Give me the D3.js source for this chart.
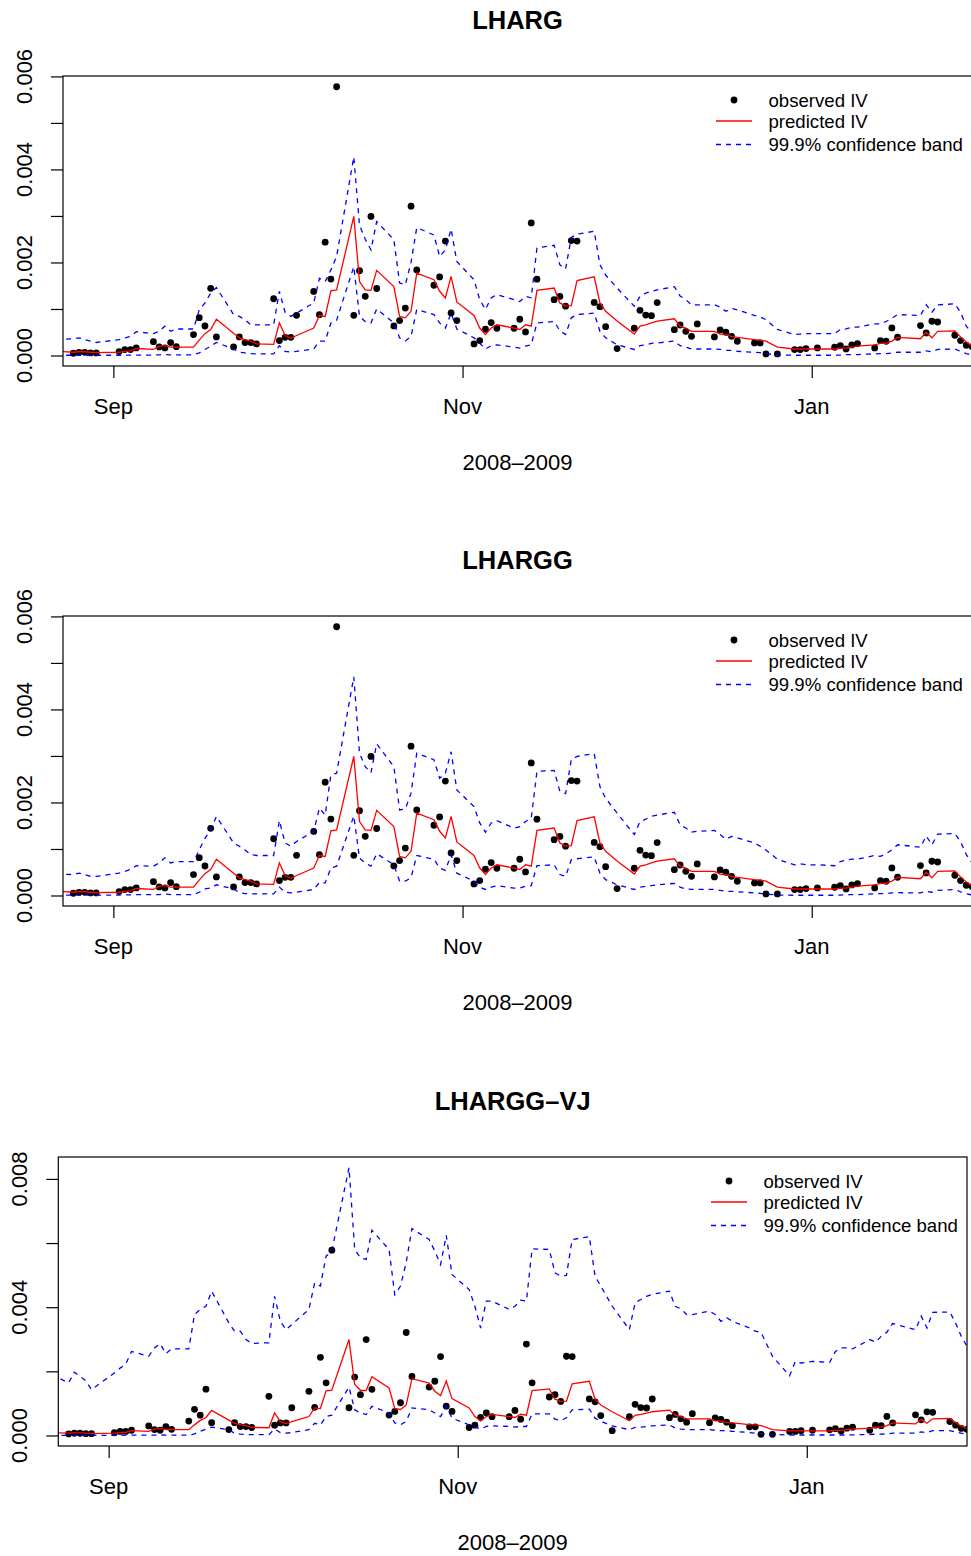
<!DOCTYPE html>
<html><head><meta charset="utf-8">
<script src="https://cdn.jsdelivr.net/npm/d3@7"></script>
<style>body{margin:0;background:#fff}svg{display:block}</style>
</head><body>
<svg id="chart" width="971" height="1556"></svg>
<script>
// Trading days (x categories)
const dates = [
"2008-08-22",
"2008-08-25","2008-08-26","2008-08-27","2008-08-28","2008-08-29",
"2008-09-02","2008-09-03","2008-09-04","2008-09-05",
"2008-09-08","2008-09-09","2008-09-10","2008-09-11","2008-09-12",
"2008-09-15","2008-09-16","2008-09-17","2008-09-18","2008-09-19",
"2008-09-22","2008-09-23","2008-09-24","2008-09-25","2008-09-26",
"2008-09-29","2008-09-30","2008-10-01","2008-10-02","2008-10-03",
"2008-10-06","2008-10-07","2008-10-08","2008-10-09","2008-10-10",
"2008-10-13","2008-10-14","2008-10-15","2008-10-16","2008-10-17",
"2008-10-20","2008-10-21","2008-10-22","2008-10-23","2008-10-24",
"2008-10-27","2008-10-28","2008-10-29","2008-10-30","2008-10-31",
"2008-11-03","2008-11-04","2008-11-05","2008-11-06","2008-11-07",
"2008-11-10","2008-11-11","2008-11-12","2008-11-13","2008-11-14",
"2008-11-17","2008-11-18","2008-11-19","2008-11-20","2008-11-21",
"2008-11-24","2008-11-25","2008-11-26","2008-11-28",
"2008-12-01","2008-12-02","2008-12-03","2008-12-04","2008-12-05",
"2008-12-08","2008-12-09","2008-12-10","2008-12-11","2008-12-12",
"2008-12-15","2008-12-16","2008-12-17","2008-12-18","2008-12-19",
"2008-12-22","2008-12-23","2008-12-24","2008-12-26",
"2008-12-29","2008-12-30","2008-12-31","2009-01-02",
"2009-01-05","2009-01-06","2009-01-07","2009-01-08","2009-01-09",
"2009-01-12","2009-01-13","2009-01-14","2009-01-15","2009-01-16",
"2009-01-20","2009-01-21","2009-01-22","2009-01-23",
"2009-01-26","2009-01-27","2009-01-28","2009-01-29"];

// All series values are in units of 0.001
const observed = [
0.05,
0.048,0.069,0.069,0.055,0.055,
0.084,0.127,0.127,0.163,
0.298,0.184,0.163,0.277,0.19,
0.449,0.814,0.634,1.443,0.399,
0.184,0.399,0.277,0.277,0.248,
1.22,0.32,0.39,0.39,0.864,
1.377,0.878,2.436,1.642,5.778,
0.864,1.822,1.271,2.99,1.44,
0.636,0.75,1.02,3.21,1.84,
1.51,1.69,2.46,0.914,0.75,
0.248,0.32,0.564,0.707,0.586,
0.586,0.779,0.507,2.85,1.64,
1.2,1.27,1.06,2.47,2.46,
1.14,1.05,0.62,0.149,
0.586,0.97,0.87,0.857,1.137,
0.556,0.656,0.52,0.413,0.678,
0.399,0.55,0.5,0.413,0.306,
0.27,0.27,0.034,0.034,
0.127,0.127,0.149,0.163,
0.177,0.213,0.141,0.227,0.256,
0.163,0.32,0.306,0.592,0.392,
0.643,0.486,0.736,0.72,
0.435,0.32,0.22,0.19];

const predicted = [
0.09,
0.07,0.08,0.08,0.07,0.06,
0.07,0.09,0.10,0.15,
0.13,0.20,0.21,0.18,0.18,
0.18,0.33,0.47,0.56,0.78,
0.48,0.38,0.34,0.31,0.25,
0.24,0.70,0.43,0.37,0.43,
0.59,0.86,0.84,1.39,1.41,
2.99,1.59,1.41,1.40,1.83,
1.48,0.84,0.81,0.95,1.77,
1.63,1.38,1.24,1.70,1.15,
0.86,0.59,0.45,0.59,0.66,
0.59,0.56,0.66,0.63,1.40,
1.45,1.13,1.06,1.07,1.61,
1.69,1.13,0.95,0.74,
0.46,0.63,0.66,0.70,0.74,
0.79,0.63,0.59,0.52,0.52,
0.52,0.46,0.45,0.41,0.39,
0.34,0.33,0.31,0.18,
0.14,0.14,0.14,0.14,
0.14,0.16,0.16,0.18,0.20,
0.23,0.26,0.26,0.31,0.39,
0.36,0.50,0.38,0.52,
0.53,0.40,0.29,0.20];

const upperLHARG = [
0.34,
0.36,0.38,0.34,0.31,0.28,
0.34,0.38,0.41,0.51,
0.47,0.52,0.63,0.52,0.57,
0.57,0.98,1.13,1.34,1.46,
0.88,0.84,0.77,0.66,0.66,
0.66,1.38,0.93,0.84,0.91,
1.13,1.66,1.59,1.84,2.13,
4.27,2.80,2.50,2.27,2.88,
2.49,1.56,1.52,2.0,2.75,
2.59,2.13,2.27,2.72,2.02,
1.63,1.20,0.99,1.24,1.31,
1.20,1.16,1.27,1.24,2.31,
2.37,1.95,1.86,2.54,2.61,
2.67,1.95,1.73,1.45,
1.06,1.27,1.34,1.38,1.41,
1.48,1.28,1.20,1.09,1.09,
1.09,1.04,0.95,1.01,0.98,
0.86,0.83,0.77,0.56,
0.45,0.46,0.47,0.47,
0.47,0.56,0.57,0.61,0.61,
0.68,0.68,0.73,0.80,0.88,
0.86,1.09,0.93,1.09,
1.11,0.93,0.63,0.49];

const lowerLHARG = [
0.005,
0.005,0.005,0.005,0.005,0.005,
0.005,0.007,0.007,0.01,
0.01,0.015,0.02,0.015,0.015,
0.015,0.055,0.13,0.20,0.28,
0.14,0.07,0.055,0.04,0.035,
0.035,0.21,0.09,0.075,0.09,
0.14,0.31,0.31,0.70,0.76,
1.91,0.84,0.73,0.70,1.0,
0.70,0.38,0.31,0.41,0.99,
0.88,0.70,0.59,0.91,0.57,
0.38,0.26,0.14,0.21,0.23,
0.18,0.16,0.20,0.23,0.70,
0.73,0.53,0.45,0.81,0.88,
0.91,0.52,0.38,0.23,
0.13,0.21,0.23,0.26,0.27,
0.31,0.21,0.18,0.14,0.14,
0.14,0.13,0.11,0.11,0.09,
0.07,0.06,0.04,0.01,
0.005,0.005,0.005,0.005,
0.005,0.01,0.02,0.02,0.02,
0.035,0.04,0.04,0.055,0.07,
0.07,0.10,0.08,0.13,
0.14,0.09,0.04,0.01];

const upperLHARGG = [
0.46,
0.45,0.48,0.45,0.41,0.41,
0.48,0.52,0.56,0.64,
0.63,0.70,0.81,0.70,0.73,
0.73,0.98,1.23,1.41,1.70,
1.13,1.06,0.98,0.88,0.86,
0.86,1.61,1.13,1.06,1.16,
1.38,1.88,1.73,2.59,2.63,
4.70,3.06,2.77,2.64,3.26,
2.77,1.84,1.86,2.2,3.06,
2.92,2.52,2.63,3.09,2.27,
1.91,1.56,1.36,1.56,1.61,
1.45,1.48,1.59,1.66,2.67,
2.69,2.24,2.19,2.92,2.99,
3.05,2.34,2.09,1.77,
1.31,1.59,1.64,1.70,1.73,
1.79,1.52,1.45,1.36,1.38,
1.40,1.31,1.21,1.27,1.24,
1.13,1.06,0.98,0.78,
0.66,0.68,0.66,0.66,
0.64,0.73,0.76,0.78,0.78,
0.86,0.84,0.90,0.98,1.09,
1.04,1.28,1.09,1.32,
1.33,1.16,0.88,0.70];

const lowerLHARGG = [
0.01,
0.01,0.01,0.01,0.01,0.01,
0.01,0.015,0.015,0.02,
0.02,0.02,0.03,0.02,0.02,
0.02,0.07,0.14,0.16,0.23,
0.14,0.06,0.04,0.035,0.035,
0.035,0.18,0.07,0.055,0.07,
0.13,0.28,0.27,0.59,0.63,
1.71,0.80,0.70,0.63,0.90,
0.66,0.31,0.31,0.38,0.86,
0.78,0.59,0.54,0.88,0.48,
0.31,0.18,0.13,0.18,0.21,
0.16,0.16,0.20,0.21,0.64,
0.66,0.45,0.41,0.77,0.79,
0.83,0.48,0.34,0.23,
0.13,0.18,0.20,0.21,0.23,
0.26,0.18,0.14,0.13,0.13,
0.13,0.11,0.09,0.09,0.08,
0.055,0.045,0.03,0.01,
0.005,0.005,0.005,0.005,
0.005,0.01,0.02,0.02,0.02,
0.035,0.04,0.04,0.055,0.06,
0.055,0.09,0.07,0.11,
0.13,0.08,0.04,0.01];

const upperLHARGGVJ = [
1.90,
1.64,1.97,1.84,1.71,1.43,
1.95,2.10,2.23,2.62,
2.47,2.73,2.86,2.55,2.70,
2.70,3.77,3.93,4.03,4.50,
3.51,3.25,3.25,2.99,2.87,
2.89,4.34,3.56,3.30,3.46,
3.93,4.76,4.66,5.59,5.75,
8.35,5.80,5.54,5.49,6.40,
5.80,4.39,4.66,5.4,6.45,
6.11,5.75,5.33,6.24,5.02,
4.55,4.03,3.35,4.19,4.19,
3.93,4.03,4.22,4.19,5.82,
5.80,5.07,4.97,4.99,6.11,
6.20,4.97,4.66,4.03,
3.30,4.14,4.24,4.34,4.40,
4.50,4.03,3.95,3.77,3.77,
3.88,3.77,3.56,3.67,3.56,
3.35,3.25,3.22,2.47,
1.86,2.31,2.26,2.31,
2.28,2.62,2.73,2.73,2.70,
2.99,2.91,3.09,3.22,3.49,
3.30,3.72,3.35,3.84,
3.85,3.51,3.09,2.78];

const lowerLHARGGVJ = [
0.005,
0.005,0.005,0.005,0.005,0.005,
0.005,0.005,0.008,0.01,
0.01,0.01,0.015,0.01,0.01,
0.01,0.05,0.13,0.20,0.26,
0.18,0.07,0.04,0.03,0.025,
0.025,0.20,0.09,0.07,0.09,
0.18,0.38,0.33,0.59,0.63,
1.51,0.80,0.70,0.65,0.91,
0.70,0.39,0.33,0.44,0.86,
0.80,0.70,0.59,0.91,0.54,
0.33,0.26,0.20,0.28,0.30,
0.28,0.26,0.28,0.28,0.67,
0.67,0.51,0.47,0.55,0.80,
0.82,0.54,0.44,0.30,
0.18,0.25,0.26,0.28,0.30,
0.33,0.23,0.20,0.18,0.18,
0.18,0.16,0.15,0.15,0.13,
0.09,0.07,0.06,0.03,
0.015,0.015,0.015,0.015,
0.015,0.015,0.015,0.015,0.02,
0.03,0.04,0.04,0.05,0.07,
0.07,0.11,0.09,0.15,
0.15,0.11,0.07,0.04];

const titles = ["LHARG", "LHARGG", "LHARGG\u2013VJ"];
const xTickDates = ["2008-09-01", "2008-11-01", "2009-01-01"];
const xTickLabels = ["Sep", "Nov", "Jan"];
const xAxisTitle = "2008\u20132009";
const yTicksA = [0, 1, 2, 3, 4, 5, 6];
const yLabelsA = [0, 2, 4, 6];
const yTicksB = [0, 2, 4, 6, 8];
const yLabelsB = [0, 4, 8];
const legendLabels = ["observed IV", "predicted IV", "99.9% confidence band"];
const UNIT = 0.001;

// ---------- drawing ----------
const FONT = "'Liberation Sans', Arial, Helvetica, sans-serif";
const svg = d3.select("#chart");
svg.append("rect").attr("width", 971).attr("height", 1556).attr("fill", "#fff");
const parse = d3.utcParse("%Y-%m-%d");
const D = dates.map(parse);
const xDomain = [new Date(Date.UTC(2008, 7, 23, 4, 48)), new Date(Date.UTC(2009, 0, 29, 0, 0))];
const DOT_R = 3.4;

const panels = [
  {title: titles[0], upper: upperLHARG, lower: lowerLHARG, box: {l: 63, r: 972, t: 76, b: 366}, yt: yTicksA, yl: yLabelsA},
  {title: titles[1], upper: upperLHARGG, lower: lowerLHARGG, box: {l: 63, r: 972, t: 616, b: 906}, yt: yTicksA, yl: yLabelsA},
  {title: titles[2], upper: upperLHARGGVJ, lower: lowerLHARGGVJ, box: {l: 58.3, r: 967, t: 1157, b: 1446}, yt: yTicksB, yl: yLabelsB}
];

panels.forEach((p, pi) => {
  const b = p.box;
  const g = svg.append("g");
  const x = d3.scaleUtc().domain(xDomain).range([b.l, b.r]);
  const ext = d3.extent([...observed, ...predicted, ...p.upper, ...p.lower]);
  const pad = 0.04 * (ext[1] - ext[0]);
  const y = d3.scaleLinear().domain([ext[0] - pad, ext[1] + pad]).range([b.b, b.t]);

  const clipId = "clip" + pi;
  svg.append("clipPath").attr("id", clipId).append("rect")
    .attr("x", b.l).attr("y", b.t).attr("width", b.r - b.l).attr("height", b.b - b.t);
  const plot = g.append("g").attr("clip-path", `url(#${clipId})`);

  // observed points
  plot.selectAll("circle").data(observed).join("circle")
    .attr("cx", (d, i) => x(D[i])).attr("cy", d => y(d)).attr("r", DOT_R).attr("fill", "#000");

  const line = d3.line().x((d, i) => x(D[i])).y(d => y(d));
  plot.append("path").attr("d", line(predicted)).attr("fill", "none")
    .attr("stroke", "#FF0000").attr("stroke-width", 1.3);
  [p.upper, p.lower].forEach(s => {
    plot.append("path").attr("d", line(s)).attr("fill", "none")
      .attr("stroke", "#0000FF").attr("stroke-width", 1.3).attr("stroke-dasharray", "5,5");
  });

  // box
  g.append("rect").attr("x", b.l).attr("y", b.t).attr("width", b.r - b.l).attr("height", b.b - b.t)
    .attr("fill", "none").attr("stroke", "#000").attr("stroke-width", 1.2);

  // y axis
  const yAx = g.append("g").attr("transform", `translate(${b.l},0)`)
    .call(d3.axisLeft(y).tickValues(p.yt).tickSize(12).tickFormat(""));
  yAx.select(".domain").remove();
  yAx.selectAll("line").attr("stroke-width", 1.2);
  g.selectAll(".ylab").data(p.yl).join("text")
    .attr("transform", d => `translate(${b.l - 31},${y(d)}) rotate(-90)`)
    .attr("text-anchor", "middle").attr("font-family", FONT).attr("font-size", 22)
    .text(d => (d * UNIT).toFixed(3));

  // x axis
  const xt = xTickDates.map(parse);
  const xAx = g.append("g").attr("transform", `translate(0,${b.b})`)
    .call(d3.axisBottom(x).tickValues(xt).tickSize(12).tickFormat(""));
  xAx.select(".domain").remove();
  xAx.selectAll("line").attr("stroke-width", 1.2);
  g.selectAll(".xlab").data(xt).join("text")
    .attr("x", d => x(d)).attr("y", b.b + 48)
    .attr("text-anchor", "middle").attr("font-family", FONT).attr("font-size", 22)
    .text((d, i) => xTickLabels[i]);
  g.append("text").attr("x", (b.l + b.r) / 2).attr("y", b.b + 104)
    .attr("text-anchor", "middle").attr("font-family", FONT).attr("font-size", 22)
    .text(xAxisTitle);

  // title
  g.append("text").attr("x", (b.l + b.r) / 2).attr("y", b.t - 47)
    .attr("text-anchor", "middle").attr("font-family", FONT).attr("font-size", 25.5)
    .attr("font-weight", "bold").text(p.title);

  // legend
  const lg = g.append("g");
  const rows = [b.t + 24, b.t + 45, b.t + 68.5];
  lg.append("circle").attr("cx", b.r - 238).attr("cy", rows[0]).attr("r", DOT_R).attr("fill", "#000");
  lg.append("line").attr("x1", b.r - 256).attr("x2", b.r - 220).attr("y1", rows[1]).attr("y2", rows[1])
    .attr("stroke", "#FF0000").attr("stroke-width", 1.3);
  lg.append("line").attr("x1", b.r - 256).attr("x2", b.r - 220).attr("y1", rows[2]).attr("y2", rows[2])
    .attr("stroke", "#0000FF").attr("stroke-width", 1.3).attr("stroke-dasharray", "5,5");
  legendLabels.forEach((t, i) => {
    lg.append("text").attr("x", b.r - 203.5).attr("y", rows[i] + 6.7)
      .attr("font-family", FONT).attr("font-size", 18.6).text(t);
  });
});
</script>
</body></html>
